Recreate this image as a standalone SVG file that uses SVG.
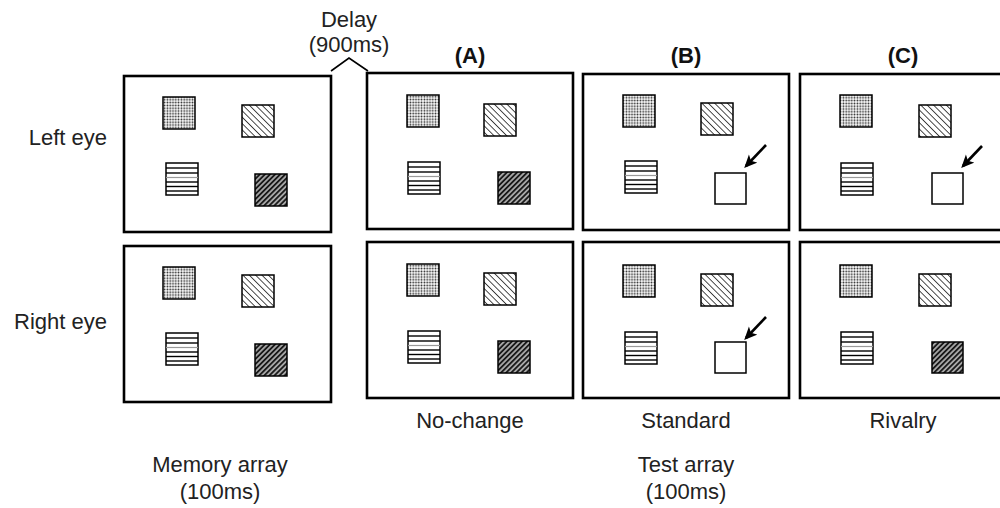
<svg xmlns="http://www.w3.org/2000/svg" width="1000" height="508" viewBox="0 0 1000 508">
  <style>
    .lbl { font-family: "Liberation Sans", Arial, sans-serif; font-size: 22px; fill: #222; }
    .hdr { font-family: "Liberation Sans", Arial, sans-serif; font-size: 22px; font-weight: bold; fill: #111; }
    .panel { fill: #fff; stroke: #000; stroke-width: 2.6; }
    .sq { stroke: #000; stroke-width: 1.5; }
    .stripe { stroke: #000; stroke-width: 1.4; }
    .arrow { stroke: #000; stroke-width: 2.6; fill: none; }
  </style>
  <defs>
    <!-- fine stipple -->
    <pattern id="dots" width="2.8" height="2.8" patternUnits="userSpaceOnUse">
      <rect width="2.8" height="2.8" fill="#fff"/>
      <circle cx="1.4" cy="1.4" r="0.9" fill="#222"/>
    </pattern>
    <!-- sparse back-slash hatching -->
    <pattern id="hatchLight" width="4.5" height="4.5" patternUnits="userSpaceOnUse" patternTransform="rotate(-45)">
      <rect width="4.5" height="4.5" fill="#fff"/>
      <line x1="0" y1="0" x2="0" y2="4.5" stroke="#111" stroke-width="1.5"/>
    </pattern>
    <!-- dense dark forward-slash hatching -->
    <pattern id="hatchDark" width="3.6" height="3.6" patternUnits="userSpaceOnUse" patternTransform="rotate(45)">
      <rect width="3.6" height="3.6" fill="#1a1a1a"/>
      <line x1="1.8" y1="0" x2="1.8" y2="3.6" stroke="#fff" stroke-width="1.1"/>
    </pattern>
    <!-- horizontally striped square -->
    <g id="stripes">
      <rect x="0" y="0" width="32" height="32" fill="#fff" class="sq"/>
      <line class="stripe" x1="0" y1="5" x2="32" y2="5"/>
      <line class="stripe" x1="0" y1="10" x2="32" y2="10"/>
      <line x1="0" y1="14.5" x2="32" y2="14.5" stroke="#999" stroke-width="1.2"/>
      <line class="stripe" x1="0" y1="19" x2="32" y2="19"/>
      <line class="stripe" x1="0" y1="23.5" x2="32" y2="23.5"/>
      <line class="stripe" x1="0" y1="28" x2="32" y2="28"/>
    </g>
    <marker id="head" viewBox="0 0 10 10" refX="8" refY="5" markerWidth="5" markerHeight="5" orient="auto" markerUnits="strokeWidth">
      <path d="M0,0.5 L10,5 L0,9.5 L2.5,5 Z" fill="#000"/>
    </marker>
  </defs>

  <rect width="1000" height="508" fill="#fff"/>

  <!-- row labels -->
  <text class="lbl" x="107" y="145" text-anchor="end">Left eye</text>
  <text class="lbl" x="107" y="329" text-anchor="end">Right eye</text>

  <!-- delay label -->
  <text class="lbl" x="349" y="27" text-anchor="middle">Delay</text>
  <text class="lbl" x="349" y="52" text-anchor="middle">(900ms)</text>

  <!-- column headers -->
  <text class="hdr" x="470" y="63" text-anchor="middle">(A)</text>
  <text class="hdr" x="686" y="63" text-anchor="middle">(B)</text>
  <text class="hdr" x="903" y="63" text-anchor="middle">(C)</text>

  <!-- memory array, left eye -->
  <g id="memory-left" transform="translate(124,76)">
    <rect class="panel" width="207" height="156"/>
    <rect class="sq" x="39" y="21" width="32" height="32" fill="url(#dots)"/>
    <rect class="sq" x="118" y="29" width="32" height="32" fill="url(#hatchLight)"/>
    <use href="#stripes" x="42" y="87"/>
    <rect class="sq" x="131" y="98" width="32" height="32" fill="url(#hatchDark)"/>
  </g>

  <!-- memory array, right eye -->
  <g id="memory-right" transform="translate(124,246)">
    <rect class="panel" width="207" height="156"/>
    <rect class="sq" x="39" y="21" width="32" height="32" fill="url(#dots)"/>
    <rect class="sq" x="118" y="29" width="32" height="32" fill="url(#hatchLight)"/>
    <use href="#stripes" x="42" y="87"/>
    <rect class="sq" x="131" y="98" width="32" height="32" fill="url(#hatchDark)"/>
  </g>

  <!-- (A) no-change, left eye -->
  <g id="nochange-left" transform="translate(367,73)">
    <rect class="panel" width="206" height="156"/>
    <rect class="sq" x="40" y="22" width="32" height="32" fill="url(#dots)"/>
    <rect class="sq" x="117" y="31" width="32" height="32" fill="url(#hatchLight)"/>
    <use href="#stripes" x="41" y="89"/>
    <rect class="sq" x="131" y="99" width="32" height="32" fill="url(#hatchDark)"/>
  </g>

  <!-- (A) no-change, right eye -->
  <g id="nochange-right" transform="translate(367,242)">
    <rect class="panel" width="206" height="156"/>
    <rect class="sq" x="40" y="22" width="32" height="32" fill="url(#dots)"/>
    <rect class="sq" x="117" y="31" width="32" height="32" fill="url(#hatchLight)"/>
    <use href="#stripes" x="41" y="89"/>
    <rect class="sq" x="131" y="99" width="32" height="32" fill="url(#hatchDark)"/>
  </g>

  <!-- (B) standard, left eye -->
  <g id="standard-left" transform="translate(583,74)">
    <rect class="panel" width="206" height="156"/>
    <rect class="sq" x="40" y="21" width="32" height="32" fill="url(#dots)"/>
    <rect class="sq" x="118" y="29" width="32" height="32" fill="url(#hatchLight)"/>
    <use href="#stripes" x="42" y="87"/>
    <rect class="sq" x="132" y="99" width="31" height="31" fill="#fff"/>
  </g>

  <!-- (B) standard, right eye -->
  <g id="standard-right" transform="translate(583,242)">
    <rect class="panel" width="206" height="156"/>
    <rect class="sq" x="40" y="23" width="32" height="32" fill="url(#dots)"/>
    <rect class="sq" x="118" y="32" width="32" height="32" fill="url(#hatchLight)"/>
    <use href="#stripes" x="42" y="90"/>
    <rect class="sq" x="132" y="100" width="31" height="31" fill="#fff"/>
  </g>

  <!-- (C) rivalry, left eye -->
  <g id="rivalry-left" transform="translate(800,74)">
    <rect class="panel" width="206" height="156"/>
    <rect class="sq" x="40" y="21" width="32" height="32" fill="url(#dots)"/>
    <rect class="sq" x="119" y="31" width="32" height="32" fill="url(#hatchLight)"/>
    <use href="#stripes" x="41" y="89"/>
    <rect class="sq" x="132" y="99" width="31" height="31" fill="#fff"/>
  </g>

  <!-- (C) rivalry, right eye -->
  <g id="rivalry-right" transform="translate(800,242)">
    <rect class="panel" width="206" height="156"/>
    <rect class="sq" x="40" y="23" width="32" height="32" fill="url(#dots)"/>
    <rect class="sq" x="119" y="32" width="32" height="32" fill="url(#hatchLight)"/>
    <use href="#stripes" x="41" y="90"/>
    <rect class="sq" x="132" y="100" width="31" height="31" fill="url(#hatchDark)"/>
  </g>

  <!-- delay bracket and change-pointing arrows -->
  <g id="connectors">
    <polyline points="331,71 349,58 368,71" fill="none" stroke="#000" stroke-width="1.6"/>
    <line class="arrow" x1="766" y1="145" x2="746" y2="166" marker-end="url(#head)"/>
    <line class="arrow" x1="766" y1="317" x2="746" y2="338" marker-end="url(#head)"/>
    <line class="arrow" x1="982" y1="146" x2="963" y2="166" marker-end="url(#head)"/>
  </g>

  <!-- condition labels -->
  <text class="lbl" x="470" y="428" text-anchor="middle">No-change</text>
  <text class="lbl" x="686" y="428" text-anchor="middle">Standard</text>
  <text class="lbl" x="903" y="428" text-anchor="middle">Rivalry</text>

  <!-- timing labels -->
  <text class="lbl" x="220" y="472" text-anchor="middle">Memory array</text>
  <text class="lbl" x="220" y="499" text-anchor="middle">(100ms)</text>
  <text class="lbl" x="686" y="472" text-anchor="middle">Test array</text>
  <text class="lbl" x="686" y="499" text-anchor="middle">(100ms)</text>
</svg>
